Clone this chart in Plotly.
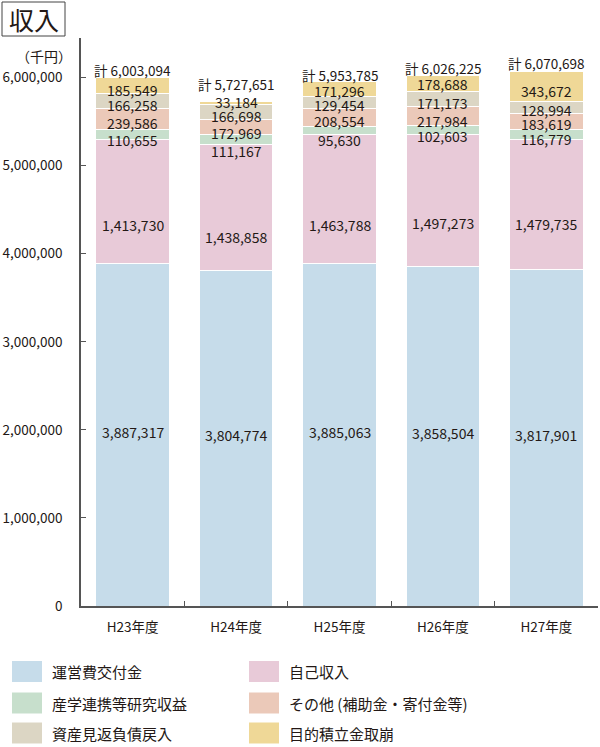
import plotly.graph_objects as go
import numpy as np

categories = ["H23年度", "H24年度", "H25年度", "H26年度", "H27年度"]
series_names = ["運営費交付金", "自己収入", "産学連携等研究収益",
                "その他 (補助金・寄付金等)", "資産見返負債戻入", "目的積立金取崩"]
unei = [3887317, 3804774, 3885063, 3858504, 3817901]
jiko = [1413730, 1438858, 1463788, 1497273, 1479735]
sangaku = [110655, 111167, 95630, 102603, 116779]
sonota = [239586, 172969, 208554, 217984, 183619]
shisan = [166258, 166698, 129454, 171173, 128994]
mokuteki = [185549, 33184, 171296, 178688, 343672]
totals = [6003094, 5727651, 5953785, 6026225, 6070698]
y_ticks = [0, 1000000, 2000000, 3000000, 4000000, 5000000, 6000000]

series_values = [unei, jiko, sangaku, sonota, shisan, mokuteki]
colors = ["#c6dcea", "#e8cad8", "#c7dfcc", "#ebc9b9", "#dcd6c4", "#efd897"]
legend_order = [0, 1, 2, 3, 4, 5]  # rows: (0,1),(2,3),(4,5)

# label pixel shifts (style)
label_shift = [
    [3, 3, 3, 3, 3],
    [-24, -29, -26, -23, -19],
    [-6, -12, -9, -6, -5],
    [-4, -6, -4, -5, -3],
    [-4, -4, -3, -4, -3],
    [-4, 1, -2, -1, -4],
]
total_shift = [-5, 6, -5, -5, -4]

FONT = "Noto Sans CJK JP"
TXT = "#231815"
W, H = 600, 747
L, R, T, B = 81, 2, 38, 141
PW, PH = W - L - R, H - T - B

def px(x):
    return (x - L) / PW

def py(y):
    return (H - B - y) / PH

fig = go.Figure()
for name, vals, col in zip(series_names, series_values, colors):
    fig.add_trace(go.Bar(x=categories, y=vals, name=name, marker_color=col,
                         marker_line=dict(color="white", width=1), showlegend=False,
                         hoverinfo="skip"))

annotations = []
cum = np.zeros(len(categories))
for si, vals in enumerate(series_values):
    v = np.array(vals, dtype=float)
    mids = cum + v / 2
    for ci, c in enumerate(categories):
        annotations.append(dict(x=c, y=mids[ci], text=f"{vals[ci]:,}", showarrow=False,
                                xref="x", yref="y", yshift=label_shift[si][ci],
                                xanchor="center", yanchor="middle",
                                font=dict(family=FONT, size=14, color=TXT)))
    cum = cum + v

for ci, c in enumerate(categories):
    annotations.append(dict(x=c, y=cum[ci], text=f"計 {totals[ci]:,}", showarrow=False,
                            xref="x", yref="y", yanchor="bottom", yshift=total_shift[ci],
                            font=dict(family=FONT, size=13.5, color=TXT)))

# title and unit
annotations.append(dict(x=px(34), y=py(19), xref="paper", yref="paper", text="収入",
                        xanchor="center", yanchor="middle",
                        showarrow=False, font=dict(family=FONT, size=25, color=TXT)))
annotations.append(dict(x=px(74), y=py(56), xref="paper", yref="paper", text="（千円）",
                        xanchor="right", yanchor="middle", showarrow=False,
                        font=dict(family=FONT, size=14, color=TXT)))

shapes = [dict(type="rect", xref="paper", yref="paper", x0=px(2), x1=px(65),
               y0=py(2), y1=py(36), line=dict(color="#444", width=1), fillcolor="rgba(0,0,0,0)")]

# custom legend
row_y = [671.5, 703, 733]
col_x = [12, 249]
for k, si in enumerate(legend_order):
    r, cidx = k // 2, k % 2
    x0 = col_x[cidx]
    yc = row_y[r]
    shapes.append(dict(type="rect", xref="paper", yref="paper", x0=px(x0), x1=px(x0 + 30),
                       y0=py(yc + 10.5), y1=py(yc - 10.5), fillcolor=colors[si],
                       line=dict(width=0)))
    annotations.append(dict(x=px(x0 + 38), y=py(yc), xref="paper", yref="paper",
                            text=series_names[si], xanchor="left", yanchor="middle",
                            showarrow=False,
                            font=dict(family=FONT, size=15, color=TXT)))

fig.update_layout(
    width=W, height=H, barmode="stack", bargap=0.29,
    margin=dict(l=L, r=R, t=T, b=B, pad=0, autoexpand=False),
    plot_bgcolor="white", paper_bgcolor="white",
    font=dict(family=FONT, color=TXT, size=13),
    annotations=annotations, shapes=shapes,
    xaxis=dict(showline=True, linecolor="#555", linewidth=1.5, ticks="inside",
               tickson="boundaries", ticklen=5, tickcolor="#555", automargin=False,
               tickfont=dict(family=FONT, size=13.5, color=TXT), showgrid=False,
               ticklabelstandoff=8),
    yaxis=dict(range=[0, 6450000], showline=True, linecolor="#555", linewidth=1.5,
               ticks="inside", ticklen=5, tickcolor="#555", tickvals=y_ticks, automargin=False,
               ticktext=[f"{v:,}" for v in y_ticks], showgrid=False, zeroline=False,
               tickfont=dict(family=FONT, size=13.5, color=TXT), ticklabelstandoff=14),
)
fig.write_html("out.html", config={"displayModeBar": False},
               post_script="document.body.style.margin='0';document.body.style.overflow='hidden';")
